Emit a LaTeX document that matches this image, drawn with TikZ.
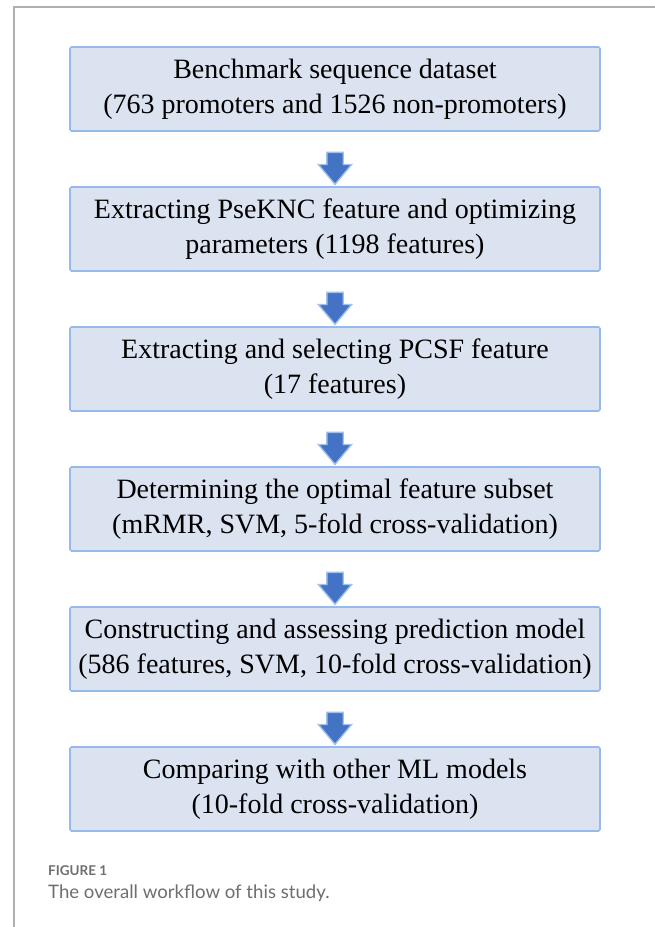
\documentclass[tikz,border=0pt]{standalone}
\usepackage{fontspec}
\setmainfont{Liberation Serif}
\newfontfamily\capfont{Lato}
\usetikzlibrary{shapes.arrows, positioning, calc}
\definecolor{cBoxFill}{RGB}{219, 226, 240}
\definecolor{cBoxDraw}{RGB}{150, 186, 236}
\definecolor{cArrFill}{RGB}{68, 114, 196}
\definecolor{cArrDraw}{RGB}{160, 194, 236}
\definecolor{cFrame}{RGB}{175, 175, 175}
\definecolor{cCapText}{RGB}{110, 110, 110}
\tikzset{
    % step boxes
    stepBox/.style={
        rectangle, draw=cBoxDraw, fill=cBoxFill, line width=1.6pt,
        rounded corners=1.5pt, align=center, inner sep=0pt, outer sep=0pt,
        minimum width=530pt, minimum height=84pt,
        font=\fontsize{28}{35}\selectfont
    },
    % block arrows between steps
    flowArrow/.style={
        single arrow, draw=cArrDraw, fill=cArrFill, line width=1.4pt,
        shape border rotate=270, inner sep=7.5pt,
        minimum height=32pt,
        single arrow head extend=8.5pt, single arrow tip angle=80
    },
    capText/.style={anchor=base west, text=cCapText, inner sep=0pt}
}

\begin{document}
\begin{tikzpicture}[x=1pt, y=1pt, node distance=56pt]
	\useasboundingbox (0,0) rectangle (655,927);

	% frame lines
	\draw [cFrame, line width=1.4pt] (14,0) -- (14,920) -- (655,920);

	% ==========================================
	% workflow steps
	% ==========================================
	\node [stepBox] (data) at (335,838) {
		Benchmark sequence dataset\\
		(763 promoters and 1526 non-promoters)
	};
	\node [stepBox, below=of data] (pseknc) {
		Extracting PseKNC feature and optimizing\\
		parameters (1198 features)
	};
	\node [stepBox, below=of pseknc] (pcsf) {
		Extracting and selecting PCSF feature\\
		(17 features)
	};
	\node [stepBox, below=of pcsf] (subset) {
		Determining the optimal feature subset\\
		(mRMR, SVM, 5-fold cross-validation)
	};
	\node [stepBox, below=of subset] (model) {
		Constructing and assessing prediction model\\
		(586 features, SVM, 10-fold cross-validation)
	};
	\node [stepBox, below=of model] (compare) {
		Comparing with other ML models\\
		(10-fold cross-validation)
	};

	% ==========================================
	% arrows
	% ==========================================
	\node [flowArrow] (a1) at ($(data.south)!0.58!(pseknc.north)$) {};
	\node [flowArrow] (a2) at ($(pseknc.south)!0.58!(pcsf.north)$) {};
	\node [flowArrow] (a3) at ($(pcsf.south)!0.58!(subset.north)$) {};
	\node [flowArrow] (a4) at ($(subset.south)!0.58!(model.north)$) {};
	\node [flowArrow] (a5) at ($(model.south)!0.58!(compare.north)$) {};

	% caption
	\node [capText, font=\capfont\bfseries\fontsize{13.5}{15}\selectfont] (figno) at (48,51) {FIGURE 1};
	\node [capText, font=\capfont\fontsize{18.6}{23}\selectfont] (figcap) at (48,28) {The overall workflow of this study.};
\end{tikzpicture}
\end{document}
